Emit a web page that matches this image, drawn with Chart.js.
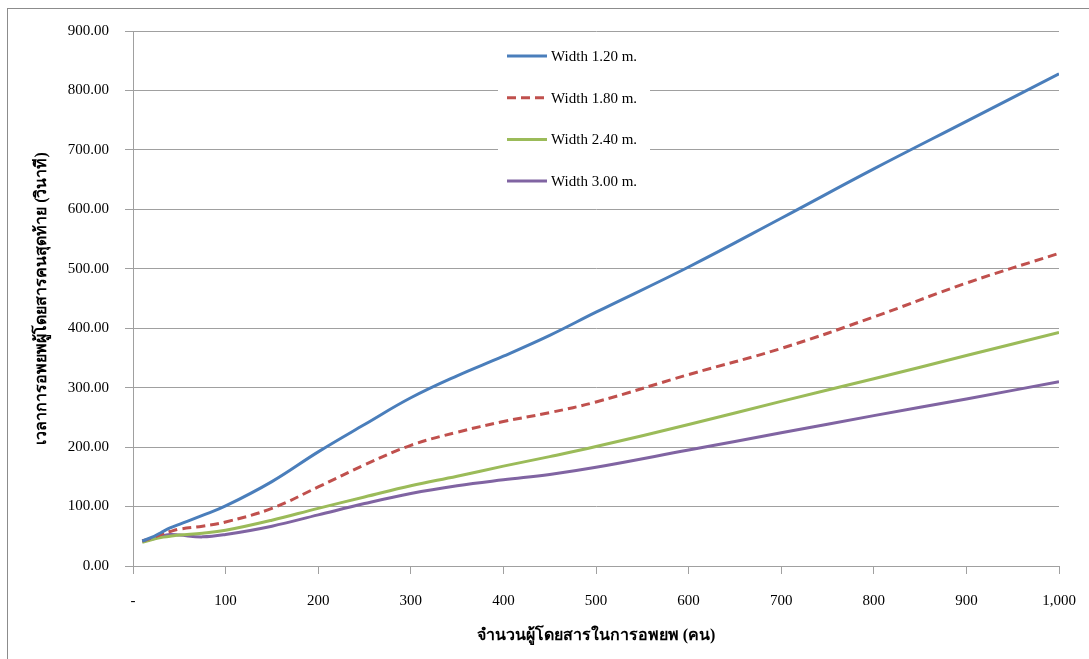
<!DOCTYPE html>
<html>
<head>
<meta charset="utf-8">
<style>
  html, body { margin: 0; padding: 0; background: #fff; }
  #wrap { width: 1089px; height: 659px; }
</style>
<script src="https://cdn.jsdelivr.net/npm/chart.js@4/dist/chart.umd.min.js"></script>
</head>
<body>
<div id="wrap"><canvas id="graficoEvacuacion"></canvas></div>
<script>
const pasajeros = [10, 20, 30, 40, 50, 75, 100, 150, 200, 250, 300, 350, 400, 450, 500, 600, 700, 800, 900, 1000];

const ancho120 = [42, 48, 56, 64, 70, 85, 101, 142, 192, 238, 283, 320, 353, 388, 427, 503, 585, 668, 748, 828];
const ancho180 = [42, 47, 53, 58, 62, 67, 74, 97, 133, 170, 203, 225, 243, 258, 276, 322, 366, 419, 476, 526];
const ancho240 = [40, 44, 48, 50, 52, 55, 60, 77, 97, 116, 135, 151, 168, 184, 201, 238, 277, 315, 354, 393];
const ancho300 = [42, 45, 50, 53, 52, 49, 53, 67, 86, 105, 122, 135, 145, 154, 166, 195, 224, 253, 281, 310];

const etiquetas = ["Width 1.20 m.", "Width 1.80 m.", "Width 2.40 m.", "Width 3.00 m."];
const colores = ["#4a7ebb", "#c0504d", "#9bbb59", "#8064a2"];
const series = [ancho120, ancho180, ancho240, ancho300];

const tituloX = "จำนวนผู้โดยสารในการอพยพ (คน)";
const tituloY = "เวลาการอพยพผู้โดยสารคนสุดท้าย (วินาที)";

const fuente = "'Liberation Serif', 'Times New Roman', serif";

// marco gris alrededor del grafico
const marco = {
    id: "marco",
    beforeDraw(chart) {
        const ctx = chart.ctx;
        ctx.save();
        ctx.fillStyle = "#ffffff";
        ctx.fillRect(0, 0, chart.width, chart.height);
        ctx.strokeStyle = "#8c8c8c";
        ctx.lineWidth = 1;
        ctx.strokeRect(7.5, 8.5, chart.width + 20, chart.height + 20);
        ctx.restore();
    },
};

// leyenda dentro del area del grafico, con fondo blanco
const leyendaInterna = {
    id: "leyendaInterna",
    afterDatasetsDraw(chart) {
        const ctx = chart.ctx;
        const area = chart.chartArea;
        const x0 = area.left + 365;
        const y0 = area.top + 4;
        ctx.save();
        ctx.fillStyle = "#ffffff";
        ctx.fillRect(x0, y0, 152, 166);
        ctx.font = "15px " + fuente;
        ctx.textBaseline = "middle";
        chart.data.datasets.forEach((ds, i) => {
            const y = y0 + 21 + i * 41.7;
            ctx.strokeStyle = ds.borderColor;
            ctx.lineWidth = 3;
            ctx.setLineDash(ds.borderDash || []);
            ctx.beginPath();
            ctx.moveTo(x0 + 9, y);
            ctx.lineTo(x0 + 49, y);
            ctx.stroke();
            ctx.setLineDash([]);
            ctx.fillStyle = "#000000";
            ctx.fillText(ds.label, x0 + 53, y + 1);
        });
        ctx.restore();
    },
};

const dataGrafico = {
    datasets: series.map((valores, i) => {
        return {
            label: etiquetas[i],
            data: pasajeros.map((p, j) => ({ x: p, y: valores[j] })),
            borderColor: colores[i],
            backgroundColor: colores[i],
            borderWidth: 3,
            borderDash: i === 1 ? [9, 5] : [],
            pointRadius: 0,
            tension: 0.4,
            fill: false,
        };
    }),
};

const configGrafico = {
    type: "line",
    data: dataGrafico,
    options: {
        responsive: true,
        maintainAspectRatio: false,
        animation: false,
        layout: {
            padding: { left: 8, top: 31, right: 30, bottom: 0 },
        },
        plugins: {
            legend: { display: false },
            tooltip: { enabled: false },
        },
        scales: {
            x: {
                type: "linear",
                min: 0,
                max: 1000,
                afterFit(scale) {
                    scale.height = 93;
                    scale.paddingLeft = 0;
                    scale.paddingRight = 0;
                },
                ticks: {
                    stepSize: 100,
                    maxRotation: 0,
                    padding: 18,
                    color: "#000000",
                    font: { family: fuente, size: 15 },
                    callback: (valor) => (valor === 0 ? "-" : valor.toLocaleString("en-US")),
                },
                grid: {
                    drawOnChartArea: false,
                    tickLength: 8,
                    color: "#a0a0a0",
                },
                border: { color: "#a0a0a0" },
                title: {
                    display: true,
                    text: tituloX,
                    color: "#000000",
                    padding: { top: 0, bottom: 14 },
                    font: { family: fuente, size: 16, weight: "bold" },
                },
            },
            y: {
                min: 0,
                max: 900,
                afterFit(scale) {
                    scale.width = 125;
                    scale.paddingTop = 0;
                    scale.paddingBottom = 0;
                },
                ticks: {
                    stepSize: 100,
                    padding: 16,
                    color: "#000000",
                    font: { family: fuente, size: 15 },
                    callback: (valor) => valor.toFixed(2),
                },
                grid: {
                    tickLength: 8,
                    color: "#a0a0a0",
                },
                border: { color: "#a0a0a0" },
                title: {
                    display: true,
                    text: tituloY,
                    color: "#000000",
                    padding: { top: 24, bottom: 0 },
                    font: { family: fuente, size: 16, weight: "bold" },
                },
            },
        },
    },
    plugins: [marco, leyendaInterna],
};

const chartEvacuacion = new Chart(
    document.getElementById("graficoEvacuacion"),
    configGrafico
);
</script>
</body>
</html>
